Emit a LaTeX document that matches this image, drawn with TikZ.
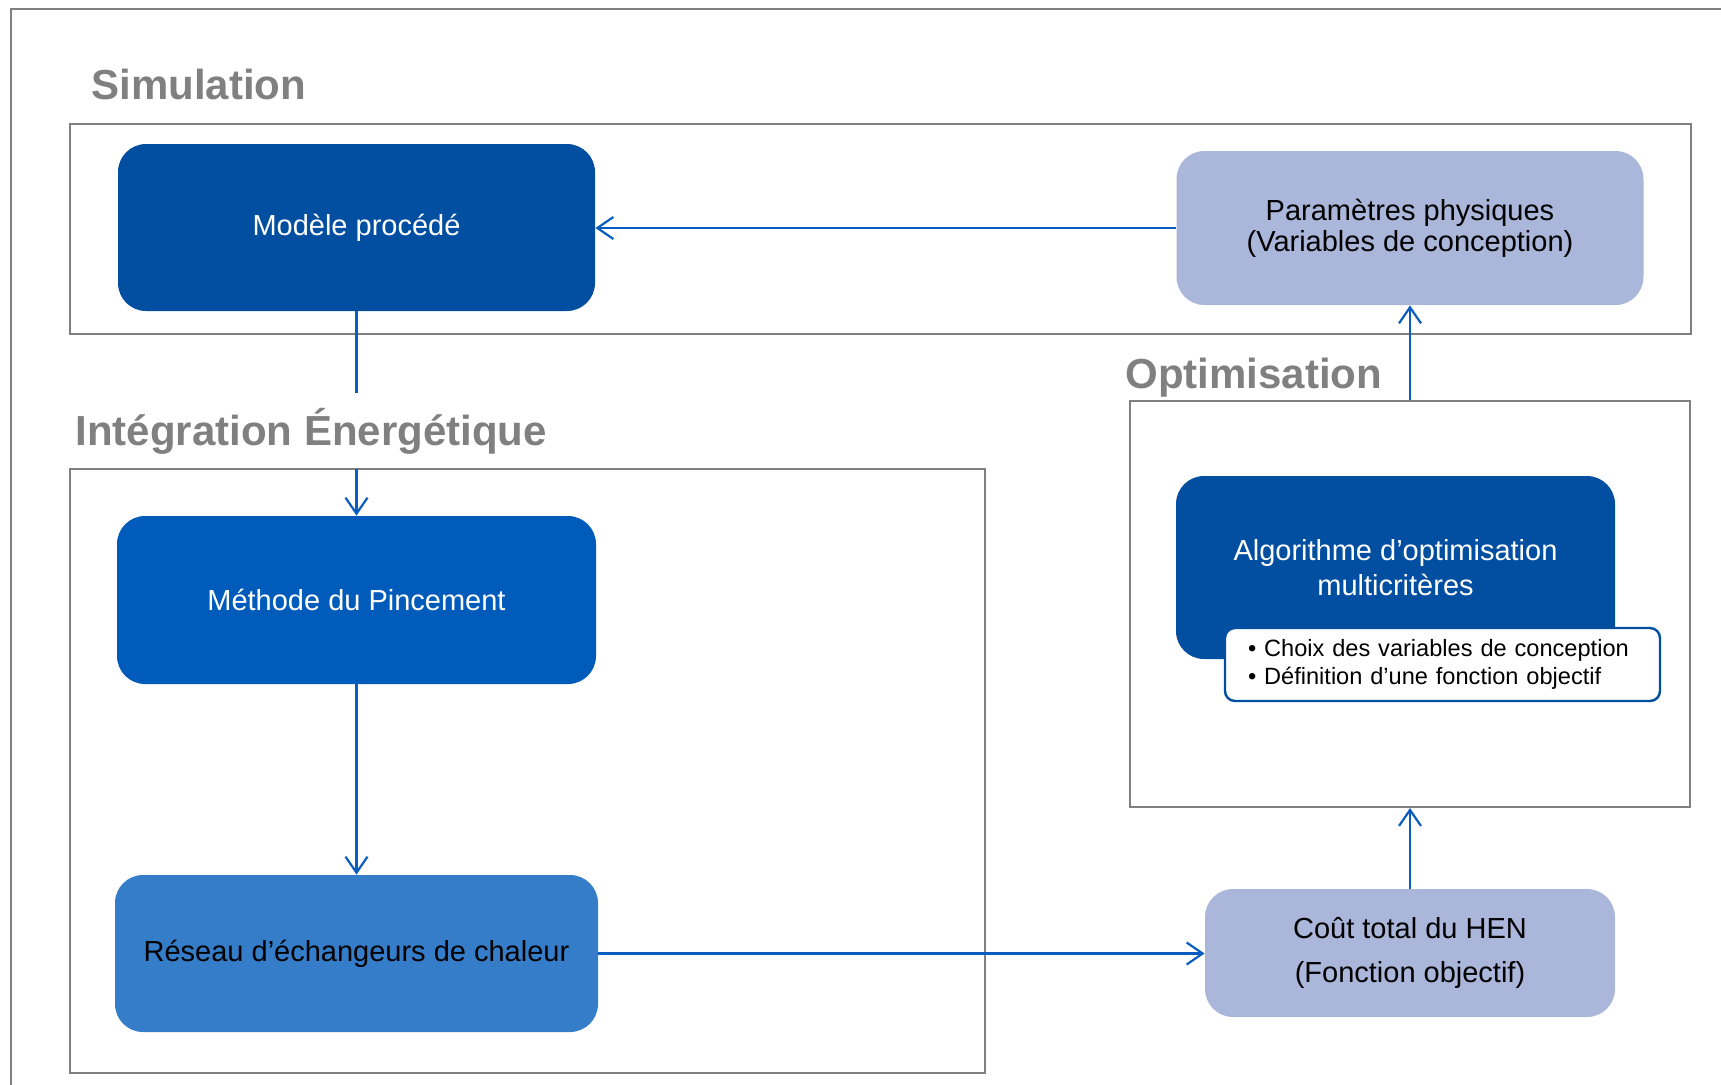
\documentclass[tikz,border=0pt]{standalone}
\usepackage{fontspec}
\setmainfont{Liberation Sans}
\usepackage{tikz}
\usetikzlibrary{arrows.meta}

\definecolor{procblue}{RGB}{2,78,160}
\definecolor{pinchblue}{RGB}{0,91,187}
\definecolor{henblue}{RGB}{53,124,201}
\definecolor{paleblue}{RGB}{170,182,218}
\definecolor{linkblue}{RGB}{10,92,190}
\definecolor{framegray}{RGB}{128,128,128}

\tikzset{
    block/.style={rounded corners=14pt, inner sep=0pt, align=center, font=\fontsize{14.5}{15.5}\selectfont},
    zone/.style={draw=framegray, line width=1pt, inner sep=0pt},
    zonetitle/.style={anchor=base west, inner sep=0pt, text=framegray, font=\fontsize{21}{25}\selectfont\bfseries},
    link/.style={draw=linkblue, line width=1.1pt},
    arrow/.style={link, -{Straight Barb[length=8pt, width=11pt]}},
}

\begin{document}
\begin{tikzpicture}[x=0.5pt, y=-0.5pt]
    \useasboundingbox (0, 0) rectangle (1721, 1084);
    \clip (0, 0) rectangle (1721, 1084);
    \draw[zone] (11, 9) rectangle (1760, 1120);

    % zones
    \node[zone, minimum width=810.5pt, minimum height=105pt] at (880.5, 229) (simbox) {};
    \node[zone, minimum width=457.5pt, minimum height=302pt] at (527.5, 771) (iebox) {};
    \node[zone, minimum width=280pt, minimum height=203pt] at (1410, 604) (optbox) {};
    \node[zonetitle] at (91, 99) (simtitle) {Simulation};
    \node[zonetitle] at (75, 445) (ietitle) {Intégration Énergétique};
    \node[zonetitle] at (1125, 388) (opttitle) {Optimisation};

    % blocks
    \node[block, fill=procblue, text=white, minimum width=238.5pt, minimum height=83.5pt] at (356.5, 227.5) (model) {Modèle procédé};
    \node[block, fill=paleblue, minimum width=233.5pt, minimum height=77pt] at (1410, 228) (params) {Paramètres physiques\\(Variables de conception)};
    \node[block, fill=pinchblue, text=white, minimum width=239.5pt, minimum height=84pt] at (356.5, 600) (pinch) {Méthode du Pincement};
    \node[block, fill=henblue, minimum width=241.5pt, minimum height=78.5pt] at (356.5, 953.5) (network) {Réseau d’échangeurs de chaleur};
    \node[block, fill=paleblue, minimum width=205pt, minimum height=64pt, font=\fontsize{14.5}{22}\selectfont] at (1410, 953) (cost) {Coût total du HEN\\(Fonction objectif)};
    \node[block, fill=procblue, text=white, minimum width=219.5pt, minimum height=91.5pt, font=\fontsize{14.5}{17.5}\selectfont] at (1395.5, 567.5) (algo) {Algorithme d’optimisation\\multicritères};
    \node[draw=procblue, line width=1.2pt, fill=white, rounded corners=5pt, inner xsep=11.5pt, inner ysep=0pt, text width=194.5pt, align=left, minimum height=36.5pt, font=\fontsize{11.8}{14.3}\selectfont] at (1442.5, 664.5) (tasks) {• Choix des variables de conception\\• Définition d’une fonction objectif};

    % links
    \coordinate (gaptop) at (356.5, 393);
    \coordinate (gapbot) at (356.5, 469);
    \draw[arrow] (params.west) -- (model.east |- params.west);
    \draw[link] (model.south) -- (gaptop);
    \draw[arrow] (gapbot) -- (pinch.north);
    \draw[arrow] (pinch.south) -- (network.north);
    \draw[arrow] (network.east) -- (cost.west |- network.east);
    \draw[arrow] (cost.north) -- (optbox.south);
    \draw[arrow] (optbox.north) -- (params.south);
\end{tikzpicture}
\end{document}
